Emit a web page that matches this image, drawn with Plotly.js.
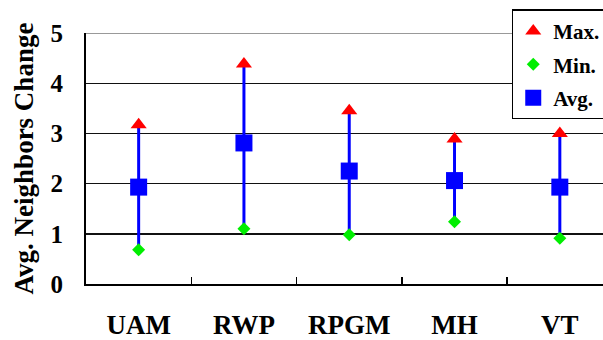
<!DOCTYPE html>
<html>
<head>
<meta charset="utf-8">
<script src="https://cdn.plot.ly/plotly-3.0.1.min.js"></script>
<style>html,body{margin:0;padding:0;background:#fff;overflow:hidden;}#chart{width:603px;height:340px;}</style>
</head>
<body>
<div id="chart"></div>
<script>
var categories = ["UAM", "RWP", "RPGM", "MH", "VT"];
var maxValues = [3.17, 4.38, 3.45, 2.89, 3.00];
var minValues = [0.68, 1.10, 0.98, 1.24, 0.91];
var avgValues = [1.93, 2.81, 2.25, 2.06, 1.93];
var yTicks = [0, 1, 2, 3, 4, 5];

var serif = "Liberation Serif";

var lx = [], ly = [];
for (var i = 0; i < categories.length; i++) {
  lx.push(categories[i], categories[i], null);
  ly.push(minValues[i], maxValues[i], null);
}

var traces = [
  {x: lx, y: ly, type: "scatter", mode: "lines", line: {color: "#0000ff", width: 3}, showlegend: false, hoverinfo: "skip"},
  {x: categories, y: maxValues, type: "scatter", mode: "markers", name: "Max.", legendgroup: "a",
   marker: {symbol: "triangle-up", size: 14, color: "#ff0000"}},
  {x: categories, y: minValues, type: "scatter", mode: "markers", name: "Min.", legendgroup: "b",
   marker: {symbol: "diamond", size: 10, color: "#00ee00"}},
  {x: categories, y: avgValues, type: "scatter", mode: "markers", name: "Avg.", legendgroup: "c",
   marker: {symbol: "square", size: 17, color: "#0000ff"}}
];

var layout = {
  width: 603, height: 340,
  margin: {l: 86, r: 0, t: 33, b: 56, autoexpand: false},
  paper_bgcolor: "#fff", plot_bgcolor: "#fff",
  font: {family: serif, size: 22, color: "#000", weight: 700},
  xaxis: {
    type: "category", range: [-0.5, 4.41],
    showline: true, linecolor: "#000", linewidth: 2,
    ticks: "inside", tickson: "boundaries", ticklen: 7, tickwidth: 1.5, tickcolor: "#000",
    showgrid: false, zeroline: false,
    tickfont: {family: serif, size: 27, color: "#000", weight: 700},
    ticklabelstandoff: 16, fixedrange: true
  },
  yaxis: {
    range: [0, 5], tickvals: yTicks, ticktext: yTicks.map(String),
    showline: true, linecolor: "#000", linewidth: 2,
    showgrid: true, gridcolor: "#111", gridwidth: 1.4, zeroline: false,
    ticks: "", tickfont: {family: serif, size: 25, color: "#000", weight: 700},
    ticklabelstandoff: 16,
    title: {text: "Avg. Neighbors Change", font: {family: serif, size: 27, color: "#000", weight: 700}, standoff: 9},
    fixedrange: true
  },
  shapes: [
    {type: "line", xref: "paper", yref: "y", x0: 0, x1: 1, y0: 5, y1: 5, line: {color: "#999", width: 2}, layer: "above"}
  ],
  legend: {
    x: 0.8235, xanchor: "left", y: 1.094, yanchor: "top",
    bgcolor: "#fff", bordercolor: "#000", borderwidth: 1.5,
    font: {family: serif, size: 21, color: "#000", weight: 700},
    tracegroupgap: 3, itemwidth: 30
  },
  showlegend: true
};

Plotly.newPlot("chart", traces, layout, {displayModeBar: false, staticPlot: true});
</script>
</body>
</html>
